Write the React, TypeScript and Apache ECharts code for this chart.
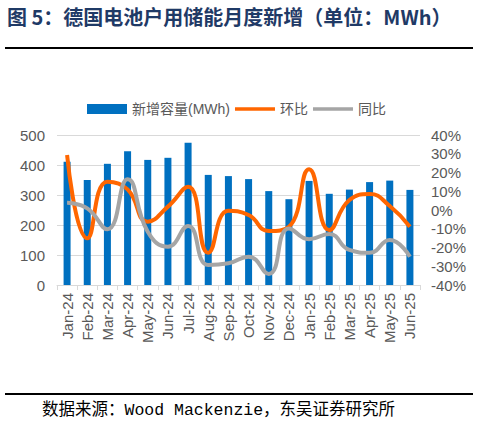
import React, { useEffect, useRef } from "react";
import * as echarts from "echarts";

const categories = [
  "Jan-24", "Feb-24", "Mar-24", "Apr-24", "May-24", "Jun-24", "Jul-24", "Aug-24", "Sep-24",
  "Oct-24", "Nov-24", "Dec-24", "Jan-25", "Feb-25", "Mar-25", "Apr-25", "May-25", "Jun-25",
];
const newCapacity = [411, 350, 404, 446, 417, 424, 474, 367, 363, 353, 313, 286, 347, 304, 318, 343, 348, 317];
const momGrowth = [29.3, -15.1, 15.1, 11.0, -6.2, 1.8, 12.4, -22.8, -0.4, -2.7, -11.2, -8.9, 21.7, -10.7, 5.3, 8.5, 2.1, -8.9];
const yoyGrowth = [3.9, 0.9, -10.3, 16.4, -11.6, -19.6, -8.5, -29.3, -28.4, -24.9, -34.1, -9.8, -15.6, -12.8, -21.3, -22.8, -16.0, -24.9];
const seriesNames = ["新增容量(MWh)", "环比", "同比"];
const titleText = "图 5：德国电池户用储能月度新增（单位：MWh）";
const sourceText = "数据来源：Wood Mackenzie，东吴证券研究所";

export default function App() {
  const ref = useRef<HTMLDivElement>(null);
  useEffect(() => {
    if (!ref.current) return;
    const chart = echarts.init(ref.current, null, { renderer: "svg" });
    const axisLabelColor = "#595959";
    const lineIcon = "path://M0,0h44v4h-44z";
    chart.setOption({
      animation: false,
      backgroundColor: "#ffffff",
      grid: { left: 57, right: 70, top: 135, bottom: 148, containLabel: false },
      legend: {
        left: 82,
        top: 97,
        itemWidth: 40,
        itemHeight: 10,
        itemGap: 5,
        textStyle: { color: axisLabelColor, fontSize: 14, fontFamily: "Liberation Sans, Noto Sans CJK SC" },
        data: [
          { name: seriesNames[0], icon: "rect" },
          { name: seriesNames[1], icon: lineIcon },
          { name: seriesNames[2], icon: lineIcon },
        ],
      },
      xAxis: {
        type: "category",
        data: categories,
        axisLine: { lineStyle: { color: "#D9D9D9" } },
        axisTick: { show: true, length: 5, lineStyle: { color: "#D9D9D9" } },
        axisLabel: {
          rotate: 90,
          interval: 0,
          color: axisLabelColor,
          fontSize: 15,
          fontFamily: "Liberation Sans",
          margin: 8,
        },
      },
      yAxis: [
        {
          type: "value",
          min: 0,
          max: 500,
          interval: 100,
          axisLine: { show: false },
          axisTick: { show: false },
          splitLine: { lineStyle: { color: "#D9D9D9" } },
          axisLabel: { color: axisLabelColor, fontSize: 15, fontFamily: "Liberation Sans", margin: 12 },
        },
        {
          type: "value",
          min: -40,
          max: 40,
          interval: 10,
          position: "right",
          axisLine: { show: false },
          axisTick: { show: false },
          splitLine: { show: false },
          axisLabel: {
            color: axisLabelColor,
            fontSize: 15,
            fontFamily: "Liberation Sans",
            margin: 11,
            formatter: "{value}%",
          },
        },
      ],
      series: [
        {
          name: seriesNames[0],
          type: "bar",
          data: newCapacity,
          barWidth: 7,
          itemStyle: { color: "#0070C0" },
        },
        {
          name: seriesNames[1],
          type: "line",
          yAxisIndex: 1,
          data: momGrowth,
          smooth: 0.5,
          symbol: "none",
          lineStyle: { color: "#FF6600", width: 4 },
          itemStyle: { color: "#FF6600" },
        },
        {
          name: seriesNames[2],
          type: "line",
          yAxisIndex: 1,
          data: yoyGrowth,
          smooth: 0.5,
          symbol: "none",
          lineStyle: { color: "#A5A5A5", width: 4 },
          itemStyle: { color: "#A5A5A5" },
        },
      ],
      graphic: [
        {
          type: "text",
          left: 7,
          top: 6,
          style: {
            text: titleText,
            fill: "#1F3A66",
            fontSize: 20,
            fontWeight: "bold",
            fontFamily: "Noto Sans CJK SC",
          },
        },
        {
          type: "line",
          shape: { x1: 5, y1: 48, x2: 473, y2: 48 },
          style: { stroke: "#000000", lineWidth: 2 },
        },
        {
          type: "line",
          shape: { x1: 5, y1: 394, x2: 473, y2: 394 },
          style: { stroke: "#000000", lineWidth: 2 },
        },
        {
          type: "text",
          left: 42,
          top: 402,
          style: {
            text: sourceText,
            fill: "#000000",
            fontSize: 16.5,
            fontFamily: "Liberation Mono, Noto Sans CJK SC",
          },
        },
      ],
    });
    return () => chart.dispose();
  }, []);
  return (
    <div
      ref={ref}
      style={{ position: "fixed", left: 0, top: 0, width: 490, height: 433 }}
    />
  );
}
